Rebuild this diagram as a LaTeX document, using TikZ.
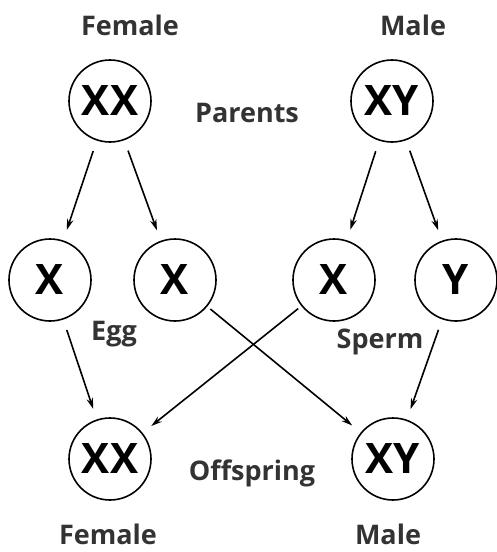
\documentclass[tikz,border=0pt]{standalone}
\usepackage{fontspec}
\setmainfont{Open Sans}
\usetikzlibrary{arrows.meta}
\begin{document}
\begin{tikzpicture}[x=1pt,y=-1pt,
  chrom/.style={circle,draw=black,line width=1.6pt,minimum size=82pt,inner sep=0pt,font=\fontsize{42}{44}\selectfont\bfseries},
  lbl/.style={anchor=base,inner sep=0pt,font=\fontsize{27}{30}\selectfont\bfseries,text=black!80},
  arr/.style={line width=1.6pt,-{Stealth[length=11pt,width=6.5pt]},shorten <=11pt,shorten >=11pt}]
\useasboundingbox (0,0) rectangle (497,552);
\node[chrom] (pf) at (110,101) {XX};
\node[chrom] (pm) at (392,101) {XY};
\node[chrom] (e1) at (50,280) {X};
\node[chrom] (e2) at (175,280) {X};
\node[chrom] (s1) at (334,280) {X};
\node[chrom] (s2) at (456,280) {Y};
\node[chrom] (of) at (110,459) {XX};
\node[chrom] (om) at (393,459) {XY};
\node[lbl] (t1) at (130,35) {Female};
\node[lbl] (t2) at (413,35) {Male};
\node[lbl] (t3) at (247,122) {Parents};
\node[lbl] (t4) at (114,340) {Egg};
\node[lbl] (t5) at (380,348) {Sperm};
\node[lbl] (t6) at (252,480) {Offspring};
\node[lbl] (t7) at (108,544) {Female};
\node[lbl] (t8) at (388,544) {Male};
\draw[arr] (pf) -- (e1);
\draw[arr] (pf) -- (e2);
\draw[arr] (pm) -- (s1);
\draw[arr] (pm) -- (s2);
\draw[arr] (e1) -- (of);
\draw[arr,shorten <=4pt] (e2) -- (om);
\draw[arr,shorten <=4pt] (s1) -- (of);
\draw[arr] (s2) -- (om);
\end{tikzpicture}
\end{document}
